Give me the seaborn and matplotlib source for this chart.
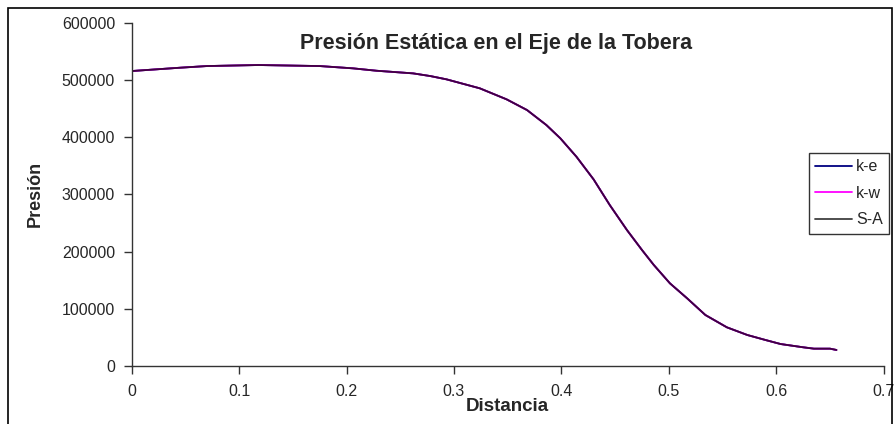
import matplotlib
matplotlib.use("Agg")
import matplotlib.pyplot as plt
from matplotlib.patches import Rectangle
from matplotlib.ticker import FuncFormatter
import seaborn as sns
import pandas as pd

# valores (las tres curvas se superponen)
distancia = [0.0, 0.045, 0.07, 0.118, 0.175, 0.206, 0.228, 0.262, 0.278, 0.293,
             0.324, 0.349, 0.368, 0.386, 0.399, 0.414, 0.430, 0.445, 0.461, 0.475,
             0.486, 0.501, 0.517, 0.534, 0.554, 0.573, 0.590, 0.604, 0.625, 0.635,
             0.650, 0.656]
presion_ke = [515500, 521300, 524200, 526000, 524200, 520200, 516000, 511400, 506700, 501000,
              485300, 466000, 447300, 421100, 397900, 365700, 326000, 281300, 237600, 202700,
              176500, 144500, 118300, 89100, 67600, 54200, 45400, 38400, 32700, 30300,
              30300, 28000]
presion_kw = list(presion_ke)
presion_sa = list(presion_ke)

modelos = ["k-e", "k-w", "S-A"]
colores = {"k-e": "#000080", "k-w": "#ff00ff", "S-A": "#000000"}
alfas = {"k-e": 1.0, "k-w": 1.0, "S-A": 0.75}

df = pd.concat([
    pd.DataFrame({"Distancia": distancia, "Presion": presion_ke, "modelo": "k-e"}),
    pd.DataFrame({"Distancia": distancia, "Presion": presion_kw, "modelo": "k-w"}),
    pd.DataFrame({"Distancia": distancia, "Presion": presion_sa, "modelo": "S-A"}),
])

sns.set_style("white")
plt.rcParams['font.family'] = ['Liberation Sans', 'DejaVu Sans']

fig = plt.figure(figsize=(8.94, 4.24), dpi=100)
ax = fig.add_axes([0.1473, 0.1368, 0.8412, 0.8097])

for m in modelos:
    sns.lineplot(data=df[df["modelo"] == m], x="Distancia", y="Presion",
                 color=colores[m], alpha=alfas[m], lw=1.3, label=m,
                 estimator=None, sort=False, ax=ax)

ax.set_xlim(0, 0.7)
ax.set_ylim(0, 600000)
ax.set_xticks([0, 0.1, 0.2, 0.3, 0.4, 0.5, 0.6, 0.7])
ax.set_yticks(range(0, 600001, 100000))
ax.xaxis.set_major_formatter(FuncFormatter(lambda v, p: f"{v:g}"))
ax.yaxis.set_major_formatter(FuncFormatter(lambda v, p: f"{int(v)}"))
ax.tick_params(axis="both", direction="out", length=6, width=1, color="#333333",
               labelsize=11.5, left=True, bottom=True)
ax.tick_params(axis="y", pad=6)
ax.tick_params(axis="x", pad=7)
for s in ["top", "right"]:
    ax.spines[s].set_visible(False)
for s in ["left", "bottom"]:
    ax.spines[s].set_color("#333333")
    ax.spines[s].set_linewidth(1)

ax.set_xlabel("Distancia", fontsize=13.5, fontweight="bold", labelpad=-1)
ax.set_ylabel("Presión", fontsize=13, fontweight="bold", labelpad=13)

fig.text(0.5554, 0.8837, "Presión Estática en el Eje de la Tobera",
         fontsize=15.5, fontweight="bold", ha="center", va="baseline")

ax.get_legend().remove()
h, l = ax.get_legend_handles_labels()
leg = fig.legend(h, l, loc="upper left", bbox_to_anchor=(0.905, 0.639),
                 fontsize=11.5, frameon=True, fancybox=False, handlelength=2.3,
                 handletextpad=0.25, labelspacing=0.72, borderpad=0.4,
                 borderaxespad=0)
leg.get_frame().set_edgecolor("#000000")
leg.get_frame().set_linewidth(1)
for t in leg.get_lines():
    t.set_linewidth(1.3)

fig.patches.append(Rectangle((8 / 894, -0.02), 884 / 894, 1 - 8 / 424 + 0.02,
                             transform=fig.transFigure, fill=False,
                             edgecolor="#000000", lw=1.2))

fig.savefig("out.png", dpi=100)
